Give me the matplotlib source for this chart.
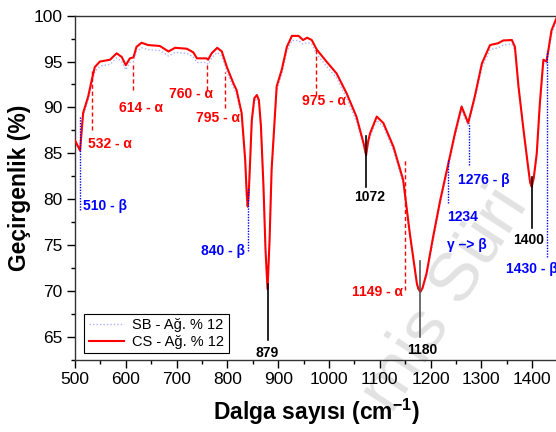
import matplotlib
matplotlib.use("Agg")
import matplotlib.pyplot as plt
from matplotlib.ticker import MultipleLocator

plt.rcParams['font.family'] = ['Liberation Sans', 'DejaVu Sans']
plt.rcParams['mathtext.fontset'] = 'custom'
plt.rcParams['mathtext.rm'] = 'Liberation Sans:bold'
plt.rcParams['mathtext.bf'] = 'Liberation Sans:bold'
plt.rcParams['mathtext.default'] = 'bf'

# ---- data ----
wavenumber = [500, 510, 516, 526, 533, 539, 549, 569, 582, 592, 600, 608, 615, 621, 631,
              644, 667, 684, 697, 720, 733, 740, 759, 762, 769, 780, 789, 799, 812, 818,
              828, 835, 838, 840, 842, 845, 848, 853, 858, 862, 866, 871, 875, 879, 883,
              887, 897, 907, 917, 927, 940, 949, 957, 966, 976, 995, 1015, 1035, 1054,
              1068, 1073, 1077, 1081, 1094, 1107, 1127, 1146, 1159, 1173, 1176, 1180,
              1184, 1192, 1205, 1219, 1235, 1248, 1261, 1274, 1287, 1301, 1317, 1333,
              1343, 1360, 1366, 1373, 1383, 1392, 1396, 1399, 1403, 1409, 1415, 1422,
              1428, 1432, 1438, 1446, 1450]
cs_values = [86.4, 85.3, 89.4, 91.2, 93.0, 94.4, 95.0, 95.2, 95.9, 95.5, 94.6, 95.35, 95.45, 96.6, 97.05,
             96.8, 96.7, 96.1, 96.5, 96.4, 96.0, 95.35, 95.35, 95.2, 95.9, 96.5, 96.1, 94.4, 92.6, 91.9,
             89.4, 84.3, 80.6, 79.2, 80.6, 84.5, 88.6, 91.0, 91.35, 90.8, 88.0, 81.4, 74.5, 70.2, 75.5,
             83.2, 92.3, 94.1, 96.6, 97.8, 97.8, 97.35, 97.6, 97.35, 96.3, 95.0, 93.7, 91.5, 89.0,
             86.1, 84.8, 86.3, 87.2, 89.0, 88.3, 85.7, 82.1, 76.3, 70.8, 70.2, 69.9,
             70.3, 71.9, 75.9, 79.9, 83.9, 87.2, 90.1, 88.3, 91.2, 94.8, 96.8, 97.0,
             97.3, 97.35, 96.6, 92.3, 87.5, 83.5, 81.8, 81.35, 82.3, 85.0, 90.4, 95.2,
             95.0, 96.3, 98.4, 99.5, 100.0]
sb_values = [86.2, 85.2, 89.0, 90.8, 92.6, 93.9, 94.5, 94.7, 95.4, 95.0, 94.1, 94.9, 95.0, 96.1, 96.5,
             96.3, 96.2, 95.6, 96.0, 95.9, 95.5, 94.9, 94.9, 94.7, 95.4, 96.0, 95.6, 93.9, 92.1, 91.4,
             89.0, 84.0, 80.4, 79.1, 80.4, 84.2, 88.2, 90.6, 91.0, 90.4, 87.6, 81.1, 74.3, 70.1, 75.2,
             82.8, 91.8, 93.6, 96.1, 97.3, 97.3, 96.9, 97.1, 96.9, 95.8, 94.5, 93.2, 91.0, 88.5,
             85.8, 84.6, 86.0, 86.8, 88.6, 87.9, 85.3, 81.7, 76.0, 70.6, 70.1, 69.8,
             70.2, 71.6, 75.5, 79.5, 83.5, 86.8, 89.7, 88.0, 90.8, 94.3, 96.3, 96.5,
             96.8, 96.9, 96.2, 92.0, 87.2, 83.3, 81.6, 81.2, 82.1, 84.7, 90.0, 94.8,
             94.7, 95.9, 98.0, 99.2, 99.7]

series_labels = ["SB - Ağ. % 12", "CS - Ağ. % 12"]

# annotations: (wavenumber, y_top, y_bottom, text, text_x, text_y, ha)
alpha_marks = [
    (533, 94.0, 87.5, "532 - α", 569, 86.0, "center"),
    (614, 95.0, 91.9, "614 - α", 630, 89.9, "center"),
    (760, 94.8, 91.9, "760 - α", 728, 91.5, "center"),
    (795, 93.9, 89.9, "795 - α", 782, 88.8, "center"),
    (975, 96.4, 91.35, "975 - α", 990, 90.7, "center"),
    (1149, 84.3, 70.1, "1149 - α", 1146, 69.9, "right"),
]
beta_marks = [
    (510, 89.0, 78.8, "510 - β", 516, 79.2, "left"),
    (840, 81.2, 74.3, "840 - β", 835, 74.3, "right"),
    (1234, 84.3, 79.6, "1234", 1232, 78.0, "left"),
    (1276, 88.3, 83.7, "1276 - β", 1253, 82.1, "left"),
    (1430, 96.1, 73.7, "1430 - β", 1348, 72.4, "left"),
]
black_marks = [
    (1072, 86.9, 81.35, "1072", 1080, 80.2, "center", "black"),
    (879, 70.8, 64.6, "879", 878, 63.2, "center", "black"),
    (1180, 73.2, 65.0, "1180", 1183, 63.5, "center", "#555555"),
    (1400, 82.4, 76.9, "1400", 1392, 75.5, "center", "black"),
]
transition_text = ("γ –> β", 1232, 75.0)

# ---- figure ----
fig = plt.figure(figsize=(5.56, 4.32), dpi=100)
ax = fig.add_axes([75/556, 72/432, 482.6/556, 344.3/432])

# watermark (behind everything in the axes)
ax.text(445/556, 1 - 300/432, "mis Süri", transform=fig.transFigure, rotation=57,
        fontsize=50, color="#e2e2e2", ha="center", va="center", zorder=0.5, clip_on=False)

ax.plot(wavenumber, sb_values, color="#aab2ff", linestyle=(0, (1, 1.5)), lw=1.0,
        label=series_labels[0], zorder=2)
ax.plot(wavenumber, cs_values, color="#ff0000", lw=1.5, label=series_labels[1], zorder=3)

ann_fs = 10
for xv, y1, y2, txt, tx, ty, ha in alpha_marks:
    ax.plot([xv, xv], [y2, y1], color="#ff0000", lw=1.0, linestyle=(0, (3, 2)), zorder=4)
    ax.text(tx, ty, txt, color="#ff0000", fontsize=ann_fs, fontweight="bold", ha=ha, va="center", zorder=5)
for xv, y1, y2, txt, tx, ty, ha in beta_marks:
    ax.plot([xv, xv], [y2, y1], color="#0000ff", lw=1.0, linestyle=(0, (1, 1)), zorder=4)
    ax.text(tx, ty, txt, color="#0000ff", fontsize=ann_fs, fontweight="bold", ha=ha, va="center",
            clip_on=False, zorder=5)
for xv, y1, y2, txt, tx, ty, ha, col in black_marks:
    ax.plot([xv, xv], [y2, y1], color=col, lw=1.2, zorder=4)
    ax.text(tx, ty, txt, color="black", fontsize=ann_fs, fontweight="bold", ha=ha, va="center", zorder=5)
ax.text(transition_text[1], transition_text[2], transition_text[0], color="#0000ff",
        fontsize=ann_fs, fontweight="bold", ha="left", va="center", zorder=5)

ax.set_xlim(500, 1450)
ax.set_ylim(62.46, 100)
ax.xaxis.set_major_locator(MultipleLocator(100))
ax.xaxis.set_minor_locator(MultipleLocator(50))
ax.yaxis.set_major_locator(MultipleLocator(5))
ax.yaxis.set_minor_locator(MultipleLocator(2.5))
ax.tick_params(which="major", direction="out", length=6, width=1, labelsize=12.5, pad=3)
ax.tick_params(which="minor", direction="out", length=3, width=1)
for s in ["left", "bottom", "top"]:
    ax.spines[s].set_linewidth(1.0)
    ax.spines[s].set_color("#333333")
ax.spines["right"].set_visible(False)

ax.set_xlabel("Dalga sayısı (cm$^{-1}$)", fontsize=16.5, fontweight="bold", labelpad=7)
ax.set_ylabel("Geçirgenlik (%)", fontsize=16.5, fontweight="bold", labelpad=2)

leg = ax.legend(loc="lower left", bbox_to_anchor=(0.019, 0.019), borderaxespad=0,
                fontsize=10.5, frameon=True, fancybox=False, edgecolor="black",
                framealpha=1, handlelength=2.4, borderpad=0.3, labelspacing=0.2,
                handletextpad=0.6)
leg.get_frame().set_linewidth(0.8)
leg.set_zorder(6)

fig.savefig("out.png", dpi=100)
